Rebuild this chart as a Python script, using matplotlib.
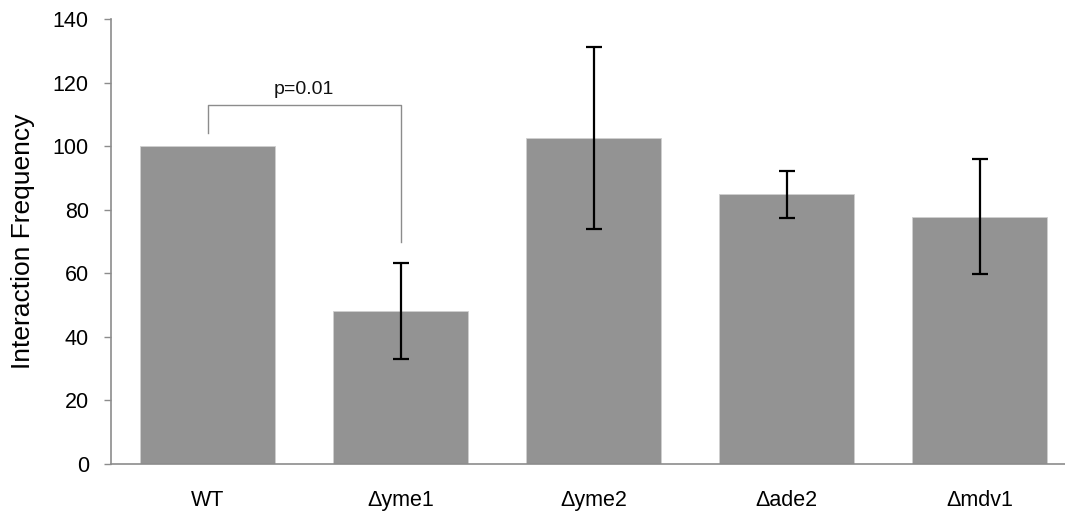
import matplotlib
matplotlib.use("Agg")
import matplotlib.pyplot as plt

plt.rcParams['font.family'] = ['Liberation Sans', 'DejaVu Sans']

# data
strains = ["WT", "\u0394yme1", "\u0394yme2", "\u0394ade2", "\u0394mdv1"]
freq = [100, 48.2, 102.7, 84.8, 77.8]
err_low = [None, 33.1, 74.0, 77.3, 59.7]
err_high = [None, 63.2, 131.2, 92.3, 95.9]
p_text = "p=0.01"
bracket_left, bracket_top, bracket_right = 104, 113, 70

axis_grey = "#8c8c8c"

fig = plt.figure(figsize=(10.65, 5.11), dpi=100)
ax = fig.add_axes([111 / 1065, 47 / 511, 954 / 1065, 445 / 511])

x = list(range(len(strains)))
ax.bar(x, freq, width=0.695, color="#939393", edgecolor="#d0d0d0", linewidth=0.6, zorder=2)

for i in x:
    if err_low[i] is None:
        continue
    ax.errorbar(i, freq[i], yerr=[[freq[i] - err_low[i]], [err_high[i] - freq[i]]],
                fmt="none", ecolor="black", elinewidth=1.6, capsize=5.5, capthick=1.6, zorder=3)

# significance bracket between WT and yme1
ax.plot([0, 0, 1, 1], [bracket_left, bracket_top, bracket_top, bracket_right],
        color=axis_grey, linewidth=1.0, zorder=3)
ax.text(0.5, bracket_top + 2.3, p_text, ha="center", va="bottom", fontsize=14, color="#111111")

ax.set_ylim(0, 140)
ax.set_xlim(-0.5, -0.5 + 954 / 193)
ax.set_yticks(range(0, 141, 20))
ax.set_xticks(x)
ax.set_xticklabels(strains)
ax.set_ylabel("Interaction Frequency", fontsize=19, labelpad=13)

for s in ["top", "right"]:
    ax.spines[s].set_visible(False)
for s in ["left", "bottom"]:
    ax.spines[s].set_color(axis_grey)
    ax.spines[s].set_linewidth(1.2)

ax.tick_params(axis="y", length=5, width=1, color=axis_grey, labelsize=15.5, pad=11)
ax.tick_params(axis="x", length=0, labelsize=15.5, pad=19)

fig.savefig("out.png", dpi=100)
